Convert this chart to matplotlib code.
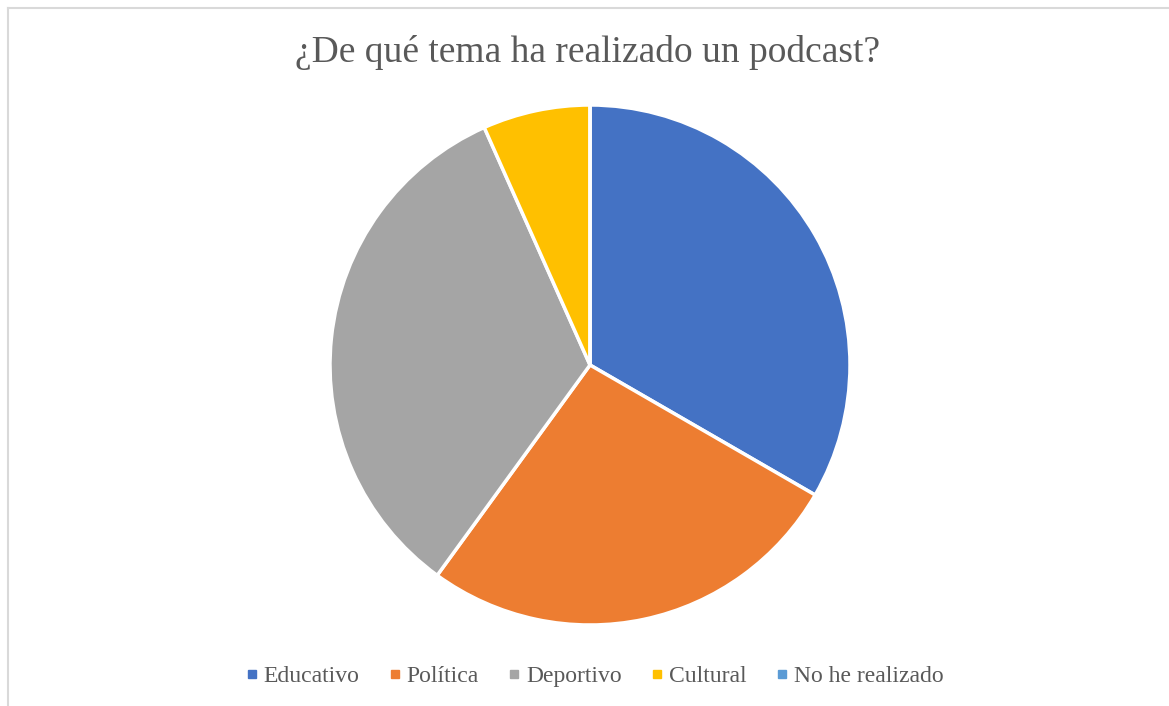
import matplotlib.pyplot as plt
from matplotlib.lines import Line2D

plt.rcParams['font.family'] = ['Liberation Serif', 'DejaVu Serif']

# datos
temas = ['Educativo', 'Política', 'Deportivo', 'Cultural', 'No he realizado']
respuestas = [5, 4, 5, 1, 0]
colores = ['#4472C4', '#ED7D31', '#A5A5A5', '#FFC000', '#5B9BD5']

W, H = 1169, 706
fig = plt.figure(figsize=(W / 100, H / 100), dpi=100)

# marco gris claro (solo arriba e izquierda visibles)
fig.add_artist(Line2D([8 / W, 1], [1 - 8 / H, 1 - 8 / H], color='#D9D9D9', lw=1.5))
fig.add_artist(Line2D([8 / W, 8 / W], [0, 1 - 8 / H], color='#D9D9D9', lw=1.5))

cx, cy, r = 590, 365, 260
ax = fig.add_axes([(cx - r) / W, (H - cy - r) / H, 2 * r / W, 2 * r / H])
ax.pie(respuestas, colors=colores, startangle=90, counterclock=False,
       wedgeprops={'edgecolor': 'white', 'linewidth': 2.5})
ax.set_aspect('equal')
ax.set_xlim(-1, 1)
ax.set_ylim(-1, 1)
ax.axis('off')

fig.text(588 / W, 1 - 52 / H, '¿De qué tema ha realizado un podcast?',
         ha='center', va='center', fontsize=27, color='#595959')

handles = [Line2D([], [], marker='s', linestyle='none', markersize=6,
                  markerfacecolor=c, markeredgecolor=c) for c in colores]
fig.legend(handles, temas, loc='center', bbox_to_anchor=(595 / W, 1 - 676 / H),
           ncol=5, frameon=False, fontsize=17, handlelength=0.4, handletextpad=0.3,
           columnspacing=1.3, labelcolor='#595959')

fig.savefig('out.png', dpi=100)
